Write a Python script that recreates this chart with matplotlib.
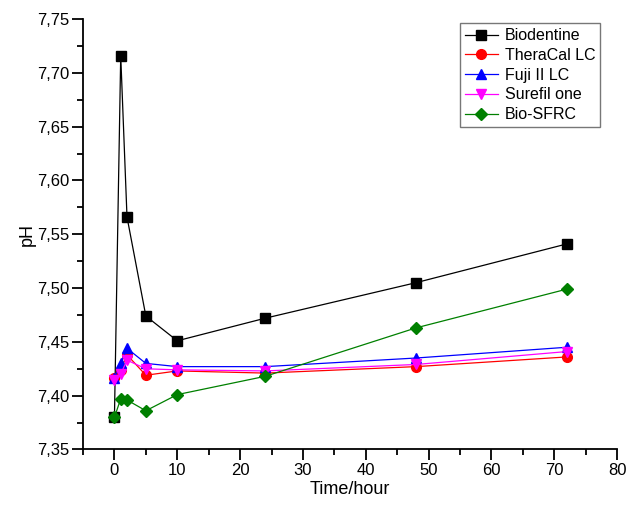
import matplotlib
matplotlib.use("Agg")
import matplotlib.pyplot as plt
from matplotlib.ticker import MultipleLocator, FuncFormatter

plt.rcParams['font.family'] = ['Liberation Sans', 'DejaVu Sans']

# Sampling times (hours)
time_h = [0, 1, 2, 5, 10, 24, 48, 72]

# pH values
biodentine = [7.380, 7.716, 7.566, 7.474, 7.451, 7.472, 7.505, 7.541]
theracal = [7.416, 7.424, 7.438, 7.419, 7.423, 7.421, 7.427, 7.436]
fuji = [7.416, 7.430, 7.444, 7.430, 7.427, 7.427, 7.435, 7.445]
surefil = [7.415, 7.420, 7.433, 7.425, 7.424, 7.423, 7.429, 7.441]
bio_sfrc = [7.380, 7.397, 7.396, 7.386, 7.401, 7.418, 7.463, 7.499]

series = [
    ("Biodentine", biodentine, "black", "s"),
    ("TheraCal LC", theracal, "red", "o"),
    ("Fuji II LC", fuji, "blue", "^"),
    ("Surefil one", surefil, "magenta", "v"),
    ("Bio-SFRC", bio_sfrc, "green", "D"),
]

fig = plt.figure(figsize=(6.29, 5.14), dpi=100)
ax = fig.add_axes([0.132, 0.1255, 0.849, 0.8375])

for name, vals, col, mk in series:
    ms = 6 if mk == "D" else 7
    ax.plot(time_h, vals, color=col, marker=mk, markersize=ms,
            linewidth=0.9, label=name)

ax.set_xlim(-5, 80)
ax.set_ylim(7.35, 7.75)
ax.xaxis.set_major_locator(MultipleLocator(10))
ax.xaxis.set_minor_locator(MultipleLocator(5))
ax.yaxis.set_major_locator(MultipleLocator(0.05))
ax.yaxis.set_minor_locator(MultipleLocator(0.025))
ax.yaxis.set_major_formatter(FuncFormatter(lambda v, p: f"{v:.2f}".replace(".", ",")))

for side in ("top", "right"):
    ax.spines[side].set_visible(False)
for side in ("left", "bottom"):
    ax.spines[side].set_linewidth(1.3)

ax.tick_params(which="major", direction="out", length=8, width=1.3,
               labelsize=12, pad=2)
ax.tick_params(which="minor", direction="out", length=4.5, width=1.3)

ax.set_xlabel("Time/hour", fontsize=13, labelpad=2)
ax.set_ylabel("pH", fontsize=13, labelpad=1)

leg = ax.legend(loc="upper right", bbox_to_anchor=(0.968, 0.99), fontsize=11.5,
                frameon=True, fancybox=False, edgecolor="#555555",
                handlelength=2.1, borderpad=0.3, labelspacing=0.3,
                handletextpad=0.4, borderaxespad=0)
leg.get_frame().set_linewidth(1.0)

fig.savefig("out.png", dpi=100)
